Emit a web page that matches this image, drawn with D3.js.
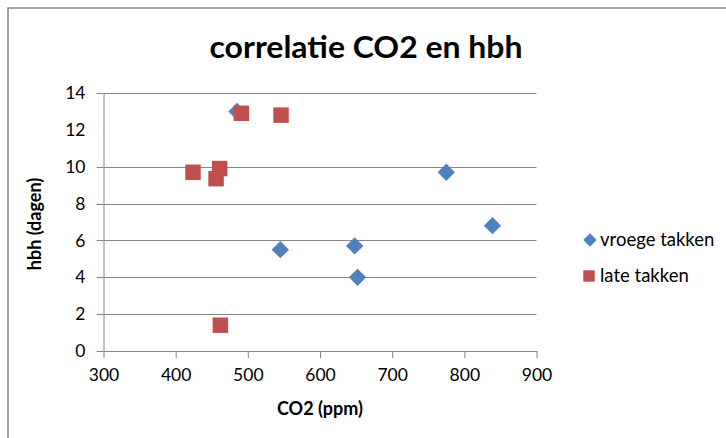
<!DOCTYPE html>
<html>
<head>
<meta charset="utf-8">
<script src="https://cdn.jsdelivr.net/npm/d3@7"></script>
<style>
  html, body { margin: 0; padding: 0; background: #fff; }
  svg { display: block; }
  text { font-family: Lato, "Open Sans", sans-serif; fill: #000; }
</style>
</head>
<body>
<svg id="chart" width="726" height="438"></svg>
<script>
// ---- data ----
const titleText = "correlatie CO2 en hbh";
const xTitle = "CO2 (ppm)";
const yTitle = "hbh (dagen)";
const seriesNames = ["vroege takken", "late takken"];
const vroegeX = [485, 545, 648, 652, 775, 839];
const vroegeY = [13.0, 5.5, 5.7, 4.0, 9.7, 6.8];
const lateX = [424, 456, 461, 491, 546, 462];
const lateY = [9.7, 9.35, 9.9, 12.9, 12.8, 1.4];
const xTicks = [300, 400, 500, 600, 700, 800, 900];
const yTicks = [0, 2, 4, 6, 8, 10, 12, 14];
const yGrid = [0, 2, 4, 6, 8, 10, 14];

// ---- drawing ----
const svg = d3.select("#chart");
const grey = "#868686";
const blue = "#4F81BD", red = "#C0504D";

svg.append("rect").attr("width", 726).attr("height", 438).attr("fill", "#fff");
svg.append("rect").attr("x", 8).attr("y", 8).attr("width", 740).attr("height", 450)
  .attr("fill", "none").attr("stroke", grey).attr("stroke-width", 1.5);

const x = d3.scaleLinear().domain([300, 900]).range([103.5, 536.5]);
const y = d3.scaleLinear().domain([0, 14]).range([351, 93]);

// gridlines
svg.append("g").selectAll("line").data(yGrid).join("line")
  .attr("x1", x(300)).attr("x2", x(900))
  .attr("y1", d => Math.round(y(d)) + 0.5).attr("y2", d => Math.round(y(d)) + 0.5)
  .attr("stroke", grey).attr("stroke-width", 1);

// y axis
const yAxis = d3.axisLeft(y).tickValues(yTicks).tickSize(0).tickPadding(18);
const gy = svg.append("g").attr("transform", `translate(${x(300)},0)`).call(yAxis);
gy.select(".domain").attr("stroke", grey);
gy.selectAll("text").attr("font-size", 17.5).attr("font-family", "Lato").attr("fill", "#000");
svg.append("g").selectAll("line").data(yGrid).join("line")
  .attr("x1", x(300) - 7).attr("x2", x(300))
  .attr("y1", d => Math.round(y(d)) + 0.5).attr("y2", d => Math.round(y(d)) + 0.5)
  .attr("stroke", grey);

// x axis
const xAxis = d3.axisBottom(x).tickValues(xTicks).tickSizeInner(7).tickSizeOuter(0).tickPadding(11);
const gx = svg.append("g").attr("transform", `translate(0,${y(0)})`).call(xAxis);
gx.select(".domain").attr("stroke", grey);
gx.selectAll(".tick line").attr("stroke", grey);
gx.selectAll("text").attr("font-size", 17.5).attr("font-family", "Lato").attr("fill", "#000");

// titles
svg.append("text").attr("x", 366).attr("y", 58).attr("text-anchor", "middle")
  .attr("font-size", 31).attr("font-weight", "bold")
  .attr("textLength", 313).attr("lengthAdjust", "spacingAndGlyphs")
  .text(titleText);
svg.append("text").attr("x", 320).attr("y", 415).attr("text-anchor", "middle")
  .attr("font-size", 18).attr("font-weight", "bold").text(xTitle);
svg.append("text").attr("transform", "translate(41,224) rotate(-90)").attr("text-anchor", "middle")
  .attr("font-size", 18).attr("font-weight", "bold").text(yTitle);

// markers
const diamond = d3.symbol().type(d3.symbolSquare).size(150);
const square = d3.symbol().type(d3.symbolSquare).size(240);

svg.append("g").selectAll("path").data(d3.range(vroegeX.length)).join("path")
  .attr("transform", i => `translate(${x(vroegeX[i])},${y(vroegeY[i])}) rotate(45)`)
  .attr("d", diamond).attr("fill", blue);
svg.append("g").selectAll("path").data(d3.range(lateX.length)).join("path")
  .attr("transform", i => `translate(${x(lateX[i])},${y(lateY[i])})`)
  .attr("d", square).attr("fill", red);

// legend
const leg = svg.append("g");
leg.append("path").attr("transform", "translate(590,240) rotate(45)")
  .attr("d", d3.symbol().type(d3.symbolSquare).size(90)).attr("fill", blue);
leg.append("text").attr("x", 600).attr("y", 246).attr("font-size", 18.5).text(seriesNames[0]);
leg.append("path").attr("transform", "translate(589,276)")
  .attr("d", d3.symbol().type(d3.symbolSquare).size(130)).attr("fill", red);
leg.append("text").attr("x", 600).attr("y", 282).attr("font-size", 18.5).text(seriesNames[1]);
</script>
</body>
</html>
